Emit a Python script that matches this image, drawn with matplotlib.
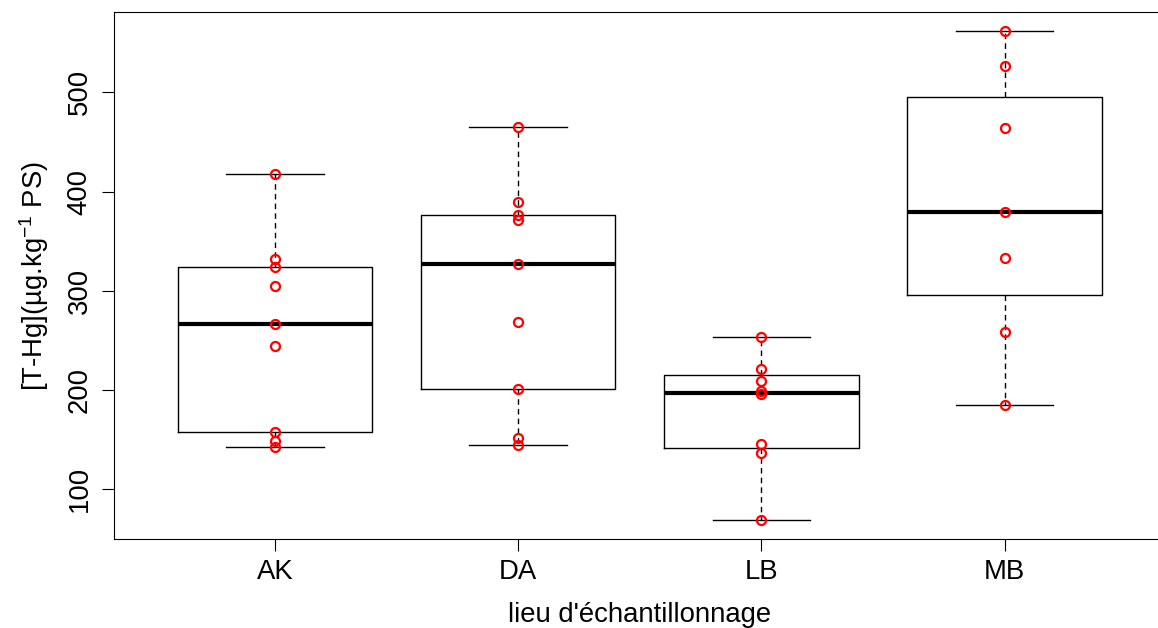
import numpy as np
import matplotlib
matplotlib.use("Agg")
import matplotlib.pyplot as plt

# * Data
sites = ["AK", "DA", "LB", "MB"]
ak = [417.6, 331.9, 323.8, 305.0, 266.8, 244.7, 157.6, 148.5, 142.5]
da = [465.1, 389.7, 376.4, 371.4, 327.4, 268.1, 200.5, 152.0, 144.5]
lb = [253.5, 221.3, 208.8, 198.8, 195.5, 145.2, 136.9, 69.2]
mb = [561.6, 526.1, 464.1, 379.4, 333.2, 258.1, 184.4]
groups = [ak, da, lb, mb]

plt.rcParams['font.family'] = ['Liberation Sans', 'DejaVu Sans']
plt.rcParams['mathtext.default'] = 'regular'


def fivenum(x):
    "Tukey hinges, the way R boxplot does it"
    x = np.sort(np.asarray(x, float))
    n = len(x)
    n4 = np.floor((n + 3) / 2) / 2
    d = np.array([1, n4, (n + 1) / 2, n + 1 - n4, n]) - 1
    return 0.5 * (x[np.floor(d).astype(int)] + x[np.ceil(d).astype(int)])


def r_stats(x, label):
    lo, q1, med, q3, hi = fivenum(x)
    iqr = q3 - q1
    x = np.asarray(x)
    inside = x[(x >= q1 - 1.5 * iqr) & (x <= q3 + 1.5 * iqr)]
    return dict(med=med, q1=q1, q3=q3, whislo=inside.min(),
                whishi=inside.max(), fliers=[], label=label)


stats = [r_stats(g, s) for g, s in zip(groups, sites)]

fig = plt.figure(figsize=(11.58, 6.28), dpi=100)
ax = fig.add_axes([114.3 / 1158, 88.7 / 628, 1051 / 1158, 527.6 / 628])

ax.bxp(stats, positions=range(1, 5), widths=0.8, capwidths=0.4,
       boxprops=dict(color='black', lw=1.0),
       medianprops=dict(color='black', lw=3.0, solid_capstyle='butt'),
       whiskerprops=dict(color='black', lw=1.0, linestyle=(0, (4, 3))),
       capprops=dict(color='black', lw=1.0),
       showfliers=False)

# points on top
for i, g in enumerate(groups, start=1):
    ax.plot(np.full(len(g), i), g, 'o', mfc='none', mec='red',
            ms=6.5, mew=1.6, zorder=5)

# ** R like axes
allv = np.concatenate(groups)
rng = allv.max() - allv.min()
ax.set_ylim(allv.min() - 0.04 * rng, allv.max() + 0.04 * rng)
ax.set_xlim(0.34, 4.66)
ax.set_yticks([100, 200, 300, 400, 500])
ax.set_xticks(range(1, 5))
ax.set_xticklabels(sites)
ax.tick_params(axis='both', length=8.5, width=0.8, labelsize=19.8)
ax.tick_params(axis='x', pad=6)
ax.tick_params(axis='y', pad=7)
for lab in ax.get_yticklabels():
    lab.set_rotation(90)
    lab.set_va('center')
for sp in ax.spines.values():
    sp.set_linewidth(0.8)

ax.set_xlabel("lieu d'échantillonnage", fontsize=19.8, labelpad=12)
ax.set_ylabel(r"[T-Hg](µg.kg$^{-1}$ PS)", fontsize=19.8, labelpad=11)

fig.savefig("out.png", dpi=100)
